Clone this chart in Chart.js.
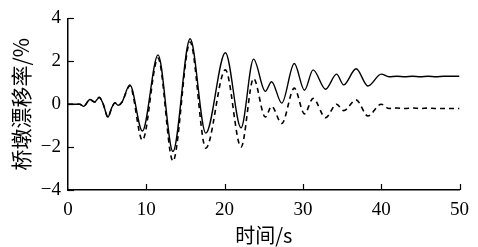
<!DOCTYPE html>
<html><head><meta charset="utf-8">
<script src="https://cdn.jsdelivr.net/npm/chart.js@4/dist/chart.umd.min.js"></script>
<style>html,body{margin:0;padding:0;background:#fff}#wrap{width:478px;height:247px}</style>
</head><body><div id="wrap"><canvas id="c" width="478" height="247"></canvas></div>
<script>
const time = [0, 1.5, 2.0, 2.8, 3.4, 4.0, 4.5, 5.1, 5.6, 6.0, 6.4, 6.9, 7.9, 9.5, 11.5, 13.4, 15.6, 17.6, 20.1, 22.1, 23.7, 25.2, 26.0, 27.3, 28.9, 30.2, 31.3, 32.9, 34.3, 35.2, 36.8, 38.3, 40.0, 41, 42, 43, 44, 45, 46, 47, 48, 49, 50];
const solidSeries = [0, 0, -0.1, 0.22, 0.1, 0.32, 0.0, -0.6, -0.15, 0.06, -0.05, 0.1, 0.9, -1.25, 2.3, -2.2, 3.05, -1.35, 2.4, -1.1, 2.1, 0.6, 1.05, 0.05, 1.9, 0.65, 1.6, 0.7, 1.4, 0.9, 1.65, 0.85, 1.4, 1.28, 1.3, 1.28, 1.3, 1.28, 1.3, 1.28, 1.3, 1.3, 1.3];
const dashedSeries = [0, 0, -0.1, 0.22, 0.1, 0.32, 0.0, -0.6, -0.15, 0.06, -0.05, 0.1, 0.85, -1.68, 2.15, -2.65, 2.9, -2.05, 1.6, -2.0, 1.2, -0.6, -0.1, -0.9, 0.75, -0.45, 0.27, -0.63, 0.0, -0.3, 0.2, -0.55, 0.0, -0.2, -0.18, -0.2, -0.18, -0.2, -0.18, -0.2, -0.2, -0.2, -0.2];
const xTicks = [0, 10, 20, 30, 40, 50];
const yTicks = [-4, -2, 0, 2, 4];
const xTitle = '时间/s';
const yTitle = '桥墩漂移率/%';

const toPts = (vals) => time.map((t, i) => ({x: t, y: vals[i]}));

const inwardTicks = {
  id: 'inwardTicks',
  afterDraw(chart) {
    const {ctx, chartArea, scales} = chart;
    ctx.save();
    ctx.strokeStyle = '#000';
    ctx.lineWidth = 1.2;
    xTicks.slice(1).forEach(v => {
      const px = Math.round(scales.x.getPixelForValue(v)) + 0.5;
      ctx.beginPath(); ctx.moveTo(px, chartArea.bottom); ctx.lineTo(px, chartArea.bottom - 6); ctx.stroke();
    });
    yTicks.forEach(v => {
      const py = Math.round(scales.y.getPixelForValue(v)) + 0.5;
      ctx.beginPath(); ctx.moveTo(chartArea.left, py); ctx.lineTo(chartArea.left + 6, py); ctx.stroke();
    });
    ctx.restore();
  }
};

new Chart(document.getElementById('c'), {
  type: 'line',
  data: {
    datasets: [
      {data: toPts(dashedSeries), borderColor: '#000', borderWidth: 1.6, borderDash: [5, 4], pointRadius: 0, cubicInterpolationMode: 'monotone', fill: false},
      {data: toPts(solidSeries), borderColor: '#000', borderWidth: 1.4, pointRadius: 0, cubicInterpolationMode: 'monotone', fill: false}
    ]
  },
  options: {
    responsive: false,
    animation: false,
    events: [],
    layout: {padding: {left: 0, right: 16, top: 15, bottom: 0}},
    plugins: {legend: {display: false}, tooltip: {enabled: false}},
    scales: {
      x: {
        type: 'linear', min: 0, max: 50,
        afterBuildTicks: s => { s.ticks = xTicks.map(v => ({value: v})); },
        afterFit: s => { s.height = 57; },
        grid: {display: false, drawTicks: false},
        border: {display: true, color: '#000', width: 1.5},
        ticks: {color: '#000', padding: 9, maxRotation: 0, font: {family: 'Liberation Serif', size: 19}},
        title: {display: true, text: xTitle, color: '#000', font: {family: 'Noto Sans CJK SC', size: 20}, padding: {top: 0, bottom: 0}}
      },
      y: {
        type: 'linear', min: -4, max: 4,
        afterBuildTicks: s => { s.ticks = yTicks.map(v => ({value: v})); },
        afterFit: s => { s.width = 68; },
        grid: {display: false, drawTicks: false},
        border: {display: true, color: '#000', width: 1.5},
        ticks: {color: '#000', padding: 7, font: {family: 'Liberation Serif', size: 19}, callback: v => (v < 0 ? '\u2212' + Math.abs(v) : String(v))},
        title: {display: true, text: yTitle, color: '#000', font: {family: 'Noto Sans CJK SC', size: 21}, padding: {top: 8, bottom: 0}}
      }
    }
  },
  plugins: [inwardTicks]
});
</script></body></html>
